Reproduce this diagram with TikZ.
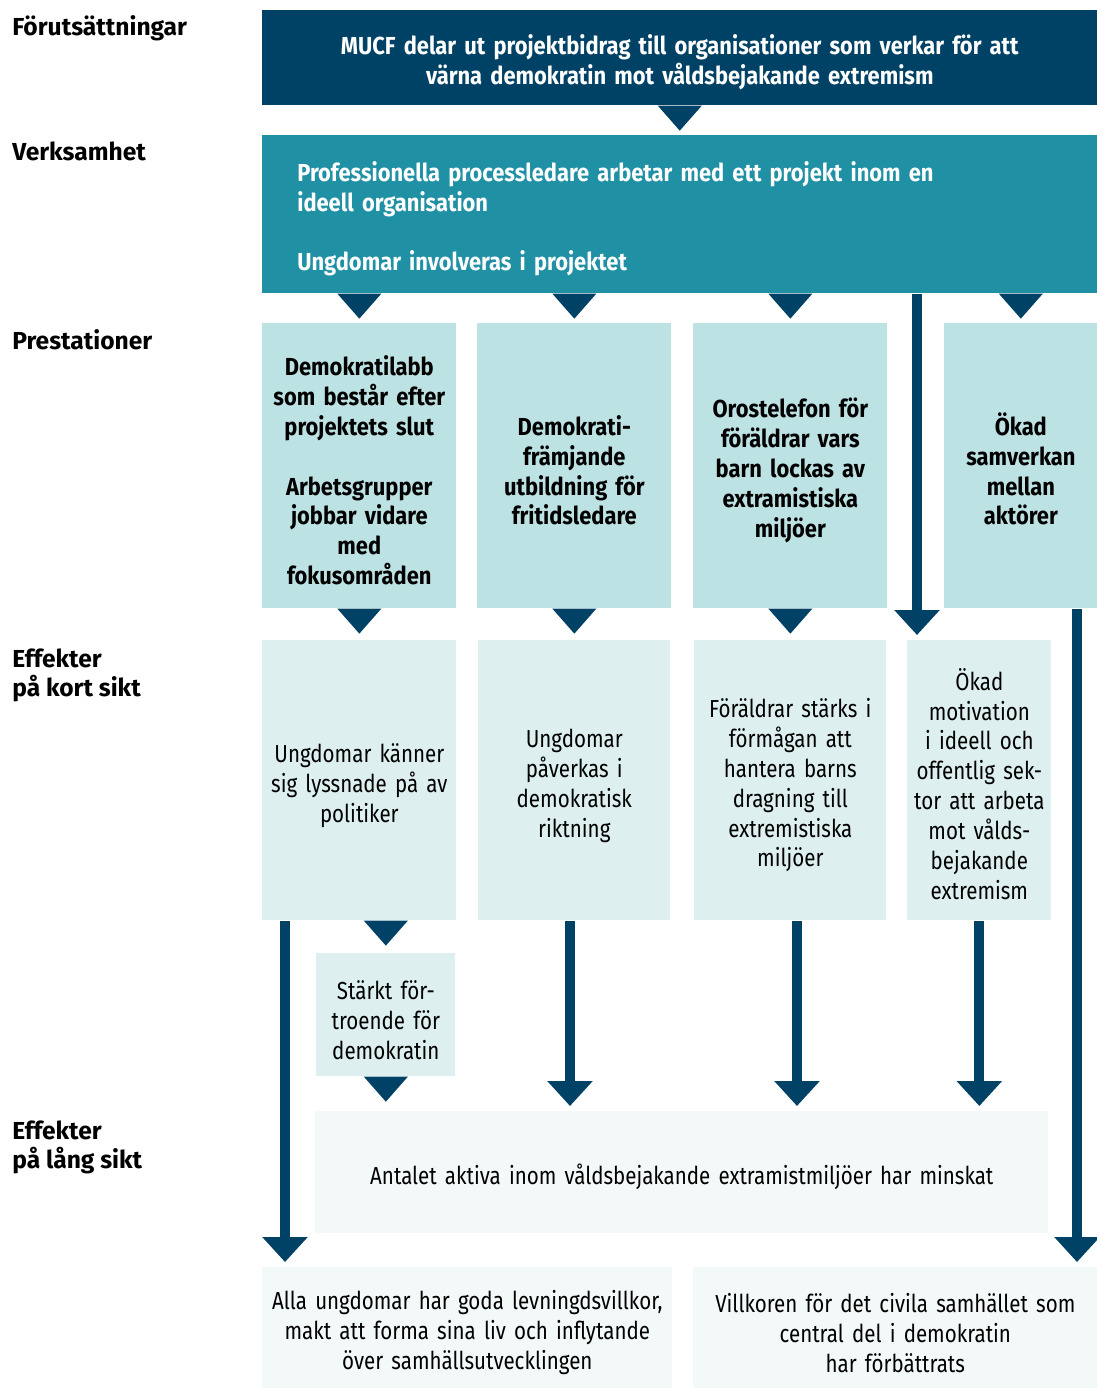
\documentclass[tikz,border=0pt]{standalone}
\usepackage{fontspec}
\setmainfont{Fira Sans}[UprightFeatures={FakeStretch=0.835},BoldFeatures={FakeStretch=0.89}]
\newfontfamily\rubrikfont{Fira Sans}
\usetikzlibrary{arrows.meta,positioning}
\definecolor{mork}{RGB}{0,66,102}
\definecolor{teal}{RGB}{32,144,165}
\definecolor{ljus}{RGB}{189,226,227}
\definecolor{ljusare}{RGB}{221,240,239}
\definecolor{blek}{RGB}{243,249,249}
\newcommand\brod{\fontsize{14}{17}\selectfont}
\newcommand\pekare[1]{\fill[mork] #1 ++(-22,0) -- ++(44,0) -- ++(-22,25) -- cycle;}

\begin{document}
\begin{tikzpicture}
[x=0.02cm,y=-0.02cm,
%
ruta/.style={inner sep=0pt,anchor=north west,align=center,font=\brod,
  execute at begin node={\rule{0pt}{16.5pt}}},
mucfruta/.style={ruta,fill=mork,text=white,font=\brod\bfseries},
verkruta/.style={ruta,fill=teal,text=white,align=left,inner xsep=0.7cm,font=\brod\bfseries},
prest/.style={ruta,fill=ljus,font=\brod\bfseries},
kort/.style={ruta,fill=ljusare},
lang/.style={ruta,fill=blek},
rubrik/.style={inner sep=0pt,align=left,font=\rubrikfont\brod\bfseries},
%
pil/.style={mork,line width=0.2cm,shorten >=0.1cm,-{Triangle[width=0.88cm,length=0.5cm]}}]
\useasboundingbox (0,0) rectangle (1097,1388);
%
% rubriker
\node[rubrik,anchor=base west] (r1) at (12,36) {Förutsättningar};
\node[rubrik,anchor=base west] (r2) at (12,161) {Verksamhet};
\node[rubrik,anchor=base west] (r3) at (12,350) {Prestationer};
\node[rubrik,anchor=north west] (r4) at (12,648) {Effekter\\på kort sikt};
\node[rubrik,anchor=north west] (r5) at (12,1120) {Effekter\\på lång sikt};
%
% forutsattningar och verksamhet
\node[mucfruta,text width=16.7cm,minimum height=1.9cm] (mucf) at (262,10)
  {MUCF delar ut projektbidrag till organisationer som verkar för att\\
   värna demokratin mot våldsbejakande extremism};
\node[verkruta,text width=15.3cm,minimum height=3.16cm] (verk) at (262,135)
  {Professionella processledare arbetar med ett projekt inom en\\
   ideell organisation\\[17pt]
   Ungdomar involveras i projektet};
\pekare{(mucf.south)}
%
% prestationer
\node[prest,text width=3.88cm,minimum height=5.7cm] (p1) at (262,323)
  {Demokratilabb\\som består efter\\projektets slut\\[17pt]Arbetsgrupper\\jobbar vidare\\med\\fokusområden};
\node[prest,text width=3.88cm,minimum height=5.7cm] (p2) at (477,323)
  {Demokrati-\\främjande\\utbildning för\\fritidsledare};
\node[prest,text width=3.88cm,minimum height=5.7cm] (p3) at (693,323)
  {Orostelefon för\\föräldrar vars\\barn lockas av\\extramistiska\\miljöer};
\node[prest,text width=3.06cm,minimum height=5.7cm] (p4) at (944,323)
  {Ökad\\samverkan\\mellan\\aktörer};
\foreach \p in {p1,p2,p3,p4}
  \pekare{(verk.south -| \p.north)}
%
% effekter pa kort sikt
\node[kort,text width=3.88cm,minimum height=5.6cm] (ek1) at (262,640)
  {Ungdomar känner\\sig lyssnade på av\\politiker};
\node[kort,text width=3.84cm,minimum height=5.6cm] (ek2) at (478,640)
  {Ungdomar\\påverkas i\\demokratisk\\riktning};
\node[kort,text width=3.84cm,minimum height=5.6cm] (ek3) at (694,640)
  {Föräldrar stärks i\\förmågan att\\hantera barns\\dragning till\\extremistiska\\miljöer};
\node[kort,text width=2.88cm,minimum height=5.6cm] (ek4) at (907,640)
  {Ökad\\motivation\\i ideell och\\offentlig sek-\\tor att arbeta\\mot vålds-\\bejakande\\extremism};
\foreach \p in {p1,p2,p3}
  \pekare{(\p.south)}
\node[kort,text width=2.78cm,minimum height=2.46cm] (st) at (316,953)
  {Stärkt för-\\troende för\\demokratin};
\pekare{(ek1.south -| st.north)}
%
% effekter pa lang sikt
\node[lang,text width=14.66cm,minimum height=2.44cm] (lang) at (315,1111)
  {Antalet aktiva inom våldsbejakande extramistmiljöer har minskat};
\node[lang,text width=8.2cm,minimum height=2.42cm] (b1) at (262,1267)
  {Alla ungdomar har goda levningdsvillkor,\\makt att forma sina liv och inflytande\\över samhällsutvecklingen};
\node[lang,text width=8.08cm,minimum height=2.42cm] (b2) at (693,1267)
  {Villkoren för det civila samhället som\\central del i demokratin\\har förbättrats};
\pekare{(st.south)}
%
% pilar
\coordinate (x1) at (285,0);
\coordinate (x2) at (570,0);
\coordinate (x3) at (797,0);
\coordinate (x4) at (917,0);
\coordinate (x5) at (1077,0);
\draw[pil] (verk.south -| x4) -- (ek4.north -| x4);
\draw[pil] (p4.south -| x5) -- (b2.north -| x5);
\draw[pil] (ek1.south -| x1) -- (b1.north -| x1);
\draw[pil] (ek2.south -| x2) -- (lang.north -| x2);
\draw[pil] (ek3.south -| x3) -- (lang.north -| x3);
\draw[pil] (ek4.south) -- (lang.north -| ek4.south);
\end{tikzpicture}
\end{document}
